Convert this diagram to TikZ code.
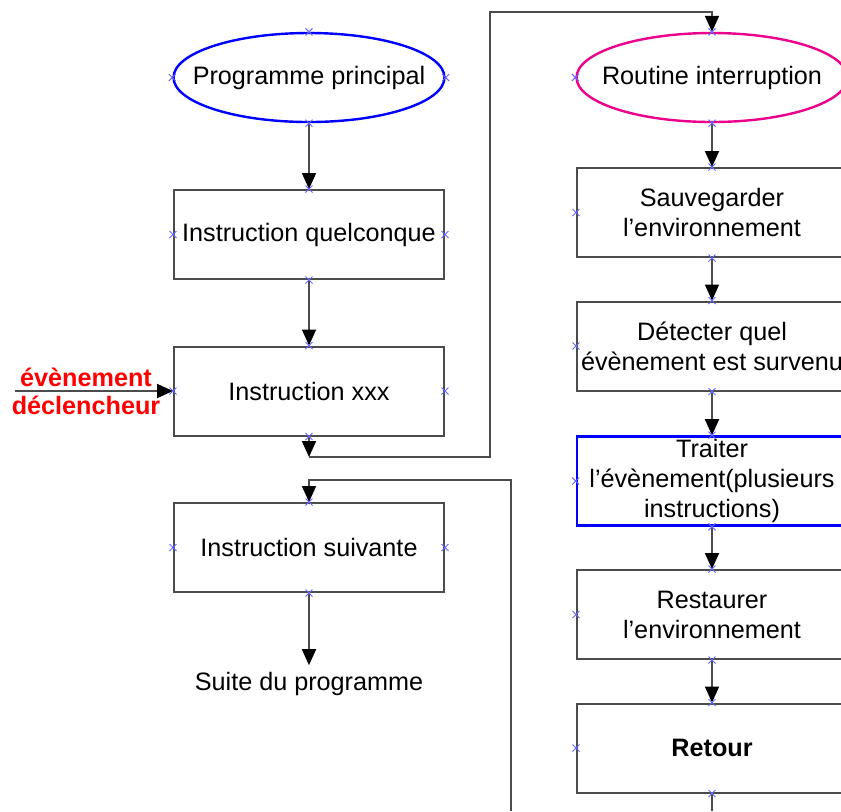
\documentclass[tikz,border=0pt]{standalone}
\usepackage{fontspec}
\setmainfont{Liberation Sans}
\usetikzlibrary{shapes.geometric,shapes.misc,arrows.meta}

\tikzset{
  box/.style={draw=black!70, line width=1pt, minimum width=135pt, minimum height=44.5pt, align=center, inner sep=1pt},
  startend/.style={ellipse, line width=1.2pt, minimum width=135.5pt, minimum height=44.5pt, inner xsep=-12pt, inner ysep=0pt},
  flow/.style={draw=black!70, line width=0.9pt, -{Triangle[width=7pt,length=8pt,color=black]}},
  wire/.style={draw=black!70, line width=0.9pt},
  xmk/.style={cross out, draw=blue!60, minimum size=3pt, inner sep=0pt, line width=0.5pt},
}
\newcommand{\anchx}[1]{\node[xmk] at (#1) {};}

\begin{document}
\begin{tikzpicture}[x=0.5pt, y=-0.5pt, font=\fontsize{12.6}{15}\selectfont]
        \useasboundingbox (0,0) rectangle (841,811);
        \clip (0,0) rectangle (841,811);

        % Main program
        \node[startend, draw=blue] (prog) at (309,77.5) {Programme principal};
        \node[box] (quel) at (309,234.5) {Instruction quelconque};
        \node[box] (xxx) at (309,391) {Instruction xxx};
        \node[box] (suiv) at (309,547.5) {Instruction suivante};
        \node (suite) at (309,684) {Suite du programme};

        % Triggering event
        \node[text=red, font=\fontsize{12.6}{14}\selectfont\bfseries, align=center] (evt) at (86,391) {évènement\\déclencheur};
        \coordinate (evtin) at (15,391);

        % Interrupt routine
        \node[startend, draw=magenta] (rout) at (712,77.5) {Routine interruption};
        \node[box] (sauv) at (712,212.5) {Sauvegarder\\l'environnement};
        \node[box] (detect) at (712,346) {Détecter quel\\évènement est survenu};
        \node[box, draw=blue, line width=1.3pt] (trait) at (712,481) {Traiter\\l'évènement(plusieurs\\instructions)};
        \node[box] (rest) at (712,614.5) {Restaurer\\l'environnement};
        \node[box, font=\fontsize{12.6}{15}\selectfont\bfseries] (ret) at (712,748) {Retour};

        % Main program flow
        \draw[flow] (prog) -- (quel);
        \draw[flow] (quel) -- (xxx);
        \draw[flow] (suiv) -- (suite);
        \draw[flow] (evtin) -- (xxx);

        % Jump to the routine
        \coordinate (tap) at (309,457);
        \coordinate (topbend) at (490,12);
        \draw[flow] (xxx) -- (tap);
        \draw[flow] (tap) -| (topbend) -| (rout);

        % Routine flow
        \draw[flow] (rout) -- (sauv);
        \draw[flow] (sauv) -- (detect);
        \draw[flow] (detect) -- (trait);
        \draw[flow] (trait) -- (rest);
        \draw[flow] (rest) -- (ret);
        \coordinate (exit) at (712,811);
        \draw[wire] (ret) -- (exit);

        % Back to the main program
        \coordinate (back) at (511,811);
        \coordinate (retbend) at (511,480);
        \draw[flow] (back) -- (retbend) -| (suiv);

        % Connection points
        \foreach \a in {prog.north, prog.south, prog.west, prog.east,
                        quel.north, quel.south, quel.west, quel.east,
                        xxx.north, xxx.south, xxx.west, xxx.east,
                        suiv.north, suiv.south, suiv.west, suiv.east,
                        rout.north, rout.south, rout.west,
                        sauv.north, sauv.south, sauv.west,
                        detect.north, detect.south, detect.west,
                        trait.north, trait.south, trait.west,
                        rest.north, rest.south, rest.west,
                        ret.north, ret.south, ret.west} {
            \anchx{\a}
        }
\end{tikzpicture}
\end{document}
